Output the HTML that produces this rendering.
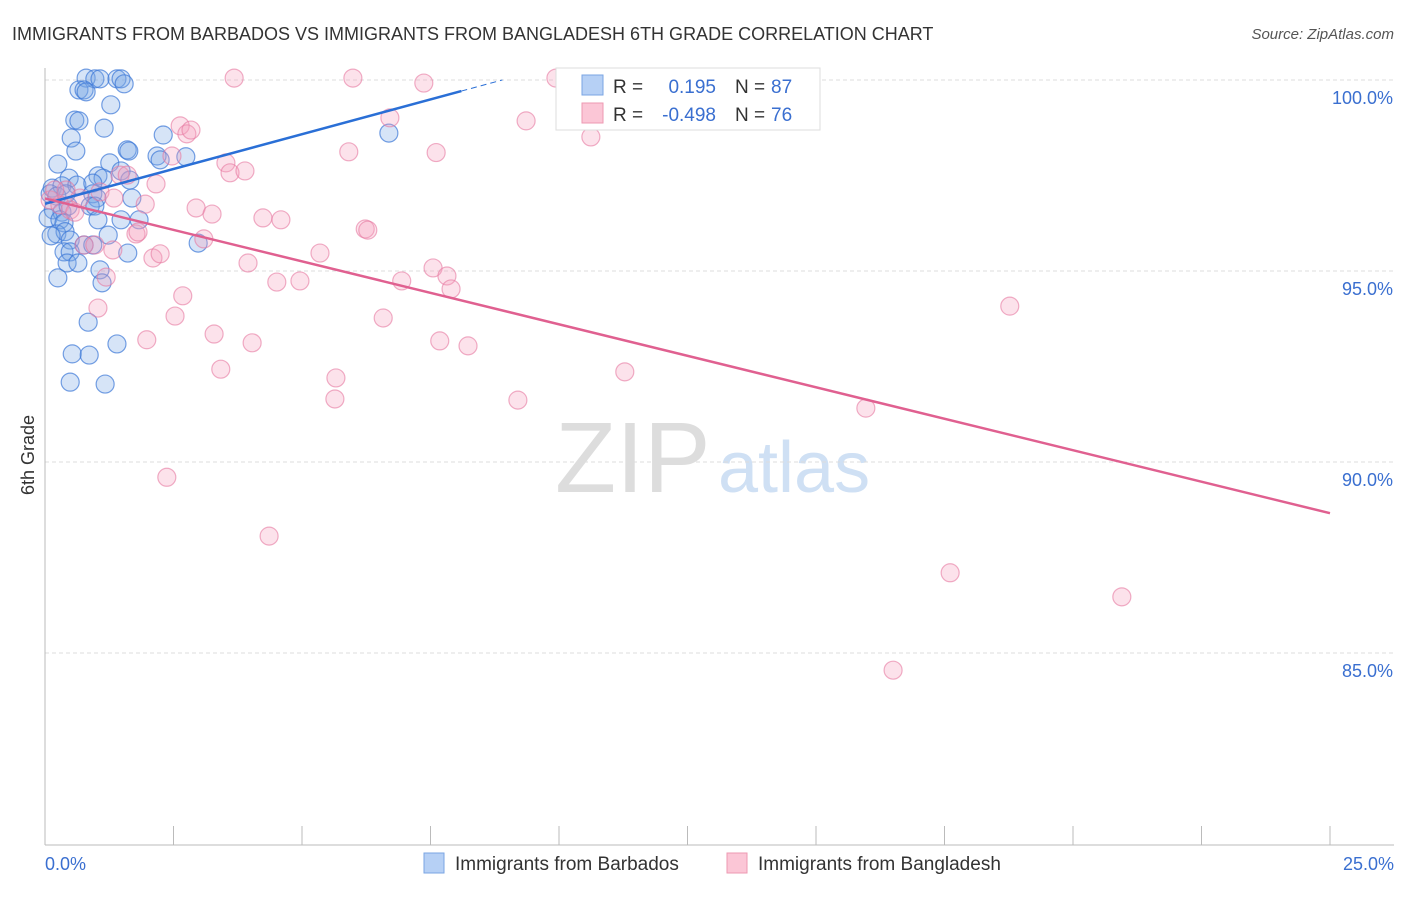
<!DOCTYPE html>
<html><head><meta charset="utf-8"><style>
body{margin:0;background:#fff;font-family:"Liberation Sans",sans-serif}
svg text{font-family:"Liberation Sans",sans-serif}
</style></head><body>
<svg id="c" width="1406" height="892" xmlns="http://www.w3.org/2000/svg">
<text x="12" y="40" font-size="18" fill="#333">IMMIGRANTS FROM BARBADOS VS IMMIGRANTS FROM BANGLADESH 6TH GRADE CORRELATION CHART</text>
<text x="1394" y="39" font-size="15" fill="#555" text-anchor="end" font-style="italic">Source: ZipAtlas.com</text>
<text x="34" y="455" font-size="18" fill="#333" text-anchor="middle" transform="rotate(-90 34 455)">6th Grade</text>
<g>
<text x="555" y="492" font-size="100" fill="#ddd" font-family="Liberation Serif">ZIP</text>
<text x="718" y="492" font-size="72" fill="#cfe0f4">atlas</text>
</g>
<g id="grid"></g><g id="axes"></g><g id="pts"></g><g id="lines"></g>
<g>
<rect x="556" y="68" width="264" height="62" fill="#fff" stroke="#ddd"/>
<rect x="582" y="75" width="21" height="20" fill="#b6d0f5" stroke="#7aa5e3"/>
<rect x="582" y="103" width="21" height="20" fill="#fbc6d6" stroke="#ee98b2"/>
<text x="613" y="93" font-size="19" fill="#333">R =</text><text x="716" y="93" font-size="19" fill="#3a6fd0" text-anchor="end">0.195</text>
<text x="735" y="93" font-size="19" fill="#333">N =</text><text x="771" y="93" font-size="19" fill="#3a6fd0">87</text>
<text x="613" y="121" font-size="19" fill="#333">R =</text><text x="716" y="121" font-size="19" fill="#3a6fd0" text-anchor="end">-0.498</text>
<text x="735" y="121" font-size="19" fill="#333">N =</text><text x="771" y="121" font-size="19" fill="#3a6fd0">76</text>
</g>
<g>
<rect x="424" y="853" width="20" height="20" fill="#b6d0f5" stroke="#7aa5e3"/>
<text x="455" y="870" font-size="19" fill="#333">Immigrants from Barbados</text>
<rect x="727" y="853" width="20" height="20" fill="#fbc6d6" stroke="#ee98b2"/>
<text x="758" y="870" font-size="19" fill="#333">Immigrants from Bangladesh</text>
</g>
</svg>
<script>
const yTicks=[100,95,90,85];
const xTickLabels=["0.0%","25.0%"];
const blueX=[0.8,0.97,1.07,1.4,1.48,1.54,0.66,0.76,0.8,1.28,0.51,0.58,0.66,1.15,2.3,6.69,0.6,0.25,1.6,1.63,2.18,2.24,2.74,1.26,1.03,0.47,1.13,0.14,0.33,0.62,0.93,1.48,1.65,0.1,0.23,0.41,0.93,1.01,1.69,0.16,0.33,0.45,0.88,0.97,0.06,0.29,0.37,1.03,1.48,1.83,0.23,0.39,0.12,0.49,0.76,0.93,1.23,0.37,0.49,1.61,2.98,0.43,0.64,1.07,1.11,0.25,0.84,1.4,0.53,0.86,0.49,1.17];
const blueY=[100.05,100.03,100.03,100.03,100.03,99.9,99.74,99.74,99.69,99.35,98.48,98.95,98.93,98.74,98.56,98.61,98.14,97.8,98.17,98.14,98.01,97.91,97.99,97.83,97.49,97.43,97.43,97.17,97.23,97.25,97.3,97.62,97.38,97.02,96.96,97.02,97.02,96.91,96.91,96.6,96.54,96.7,96.7,96.7,96.39,96.34,96.26,96.34,96.34,96.34,95.97,96.03,95.92,95.81,95.68,95.68,95.94,95.5,95.5,95.47,95.73,95.21,95.21,95.03,94.69,94.82,93.66,93.09,92.83,92.8,92.09,92.04];
const pinkX=[3.68,5.99,7.37,9.94,2.63,2.76,2.84,6.71,9.36,10.62,5.91,7.61,2.47,3.52,3.6,3.89,1.46,1.6,2.16,1.07,0.41,0.68,1.34,1.95,2.94,3.25,4.24,4.59,6.23,6.28,1.77,1.81,3.09,0.76,0.97,1.32,2.1,2.24,5.35,3.95,1.19,7.55,7.82,7.9,4.51,4.96,6.94,2.68,1.03,2.53,6.58,3.29,1.98,4.03,7.68,8.23,18.77,3.42,5.66,5.64,11.28,9.2,15.97,2.37,4.36,17.61,20.95,16.5,0.1,0.29,0.49,0.19,0.58];
const pinkY=[100.05,100.05,99.92,100.05,98.8,98.59,98.69,99.01,98.93,98.51,98.12,98.1,98.01,97.83,97.57,97.62,97.51,97.51,97.28,97.07,97.12,96.91,96.91,96.75,96.65,96.49,96.39,96.34,96.1,96.07,95.97,96.02,95.84,95.68,95.68,95.55,95.34,95.45,95.47,95.21,94.84,95.08,94.87,94.53,94.71,94.74,94.74,94.35,94.03,93.82,93.77,93.35,93.2,93.12,93.17,93.04,94.08,92.43,92.2,91.65,92.36,91.62,91.41,89.6,88.06,87.1,86.47,84.55,96.86,96.73,96.6,97.12,96.54];
const blueLine=[0,96.76,8.1,99.71];
const pinkLine=[0,96.9,25,88.66];
const NS="http://www.w3.org/2000/svg";
const X=v=>45+v*51.4, Y=v=>80+(100-v)*38.2;
function mk(t,a,p){const e=document.createElementNS(NS,t);for(const k in a)e.setAttribute(k,a[k]);document.getElementById(p).appendChild(e);return e;}
yTicks.forEach(t=>{
const g=mk('line',{x1:45,x2:1394,y1:Y(t),y2:Y(t),stroke:'#ddd','stroke-dasharray':'4 3'},'grid');


const l=mk('text',{x:1393,y:Y(t)+24,'font-size':18,fill:'#3a6fd0','text-anchor':'end'},'axes');l.textContent=t.toFixed(1)+'%';


});
let a=mk('line',{x1:45,x2:45,y1:68,y2:845,stroke:'#bbb'},'axes');


a=mk('line',{x1:45,x2:1394,y1:845,y2:845,stroke:'#bbb'},'axes');


for(let i=0;i<=10;i++){const t=mk('line',{x1:X(i*2.5),x2:X(i*2.5),y1:826,y2:845,stroke:'#bbb'},'axes');

}
[[45,'start',0],[1394,'end',1]].forEach(([x,an,i])=>{const t=mk('text',{x:x,y:870,'font-size':18,fill:'#3a6fd0','text-anchor':an},'axes');t.textContent=xTickLabels[i];

});
blueX.forEach((v,i)=>{const c=mk('circle',{cx:X(v),cy:Y(blueY[i]),r:9,fill:'rgba(120,165,230,0.3)',stroke:'rgba(60,120,215,0.7)','stroke-width':1.2},'pts');

});
pinkX.forEach((v,i)=>{const c=mk('circle',{cx:X(v),cy:Y(pinkY[i]),r:9,fill:'rgba(245,160,190,0.3)',stroke:'rgba(230,120,160,0.6)','stroke-width':1.2},'pts');

});
const bs=(blueLine[3]-blueLine[1])/(blueLine[2]-blueLine[0]);
let l=mk('line',{x1:X(blueLine[0]),y1:Y(blueLine[1]),x2:X(blueLine[2]),y2:Y(blueLine[3]),stroke:'#2a6fd6','stroke-width':2.5},'lines');


l=mk('line',{x1:X(blueLine[2]),y1:Y(blueLine[3]),x2:X(8.9),y2:Y(blueLine[3]+bs*0.8),stroke:'#2a6fd6','stroke-width':1,'stroke-dasharray':'6 4'},'lines');


l=mk('line',{x1:X(pinkLine[0]),y1:Y(pinkLine[1]),x2:X(pinkLine[2]),y2:Y(pinkLine[3]),stroke:'#e06090','stroke-width':2.5},'lines');


</script>
</body></html>
